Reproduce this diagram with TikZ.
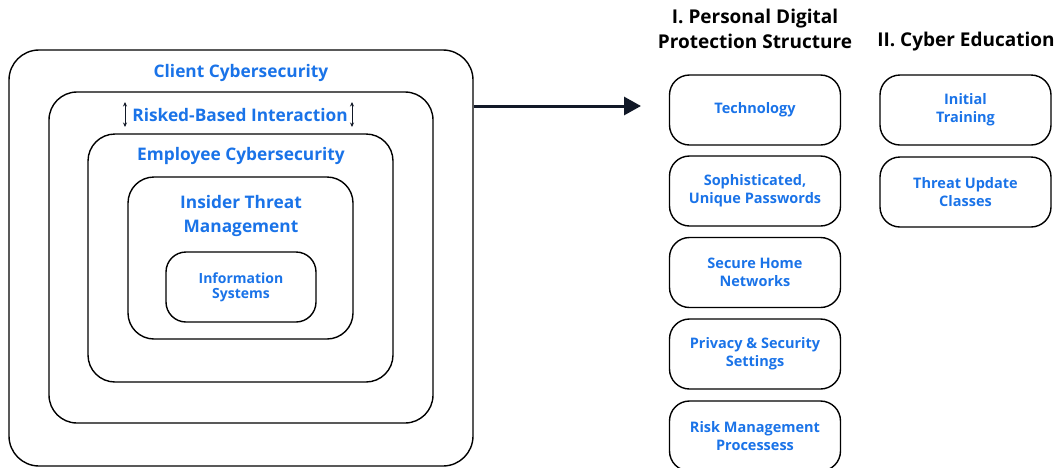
\documentclass[tikz,border=0pt]{standalone}
\usepackage{fontspec}
\setmainfont{Open Sans}
\usetikzlibrary{arrows.meta}
\definecolor{labelblue}{RGB}{26,115,232}
\definecolor{arrowdark}{RGB}{17,24,39}

\begin{document}
\begin{tikzpicture}[x=1pt, y=-1pt,
  layer/.style={draw, line width=1.4pt, inner sep=0pt},
  tag/.style={text=labelblue, align=center, font=\bfseries\fontsize{17.3}{24}\selectfont},
  item/.style={draw, line width=1.4pt, rounded corners=20pt, minimum width=171pt, minimum height=70pt, align=center, text=labelblue, font=\bfseries\fontsize{14.5}{18}\selectfont},
  head/.style={align=center, font=\bfseries\fontsize{19}{25}\selectfont}]
  \useasboundingbox (0,0) rectangle (1057,467);
  \node[layer, rounded corners=30pt, minimum width=464pt, minimum height=416pt] (client) at (241,258) {};
  \node[layer, rounded corners=28pt, minimum width=384pt, minimum height=331pt] (rbi) at (241,257.5) {};
  \node[layer, rounded corners=27pt, minimum width=305pt, minimum height=248pt] (emp) at (240.5,258) {};
  \node[layer, rounded corners=26pt, minimum width=225pt, minimum height=162pt] (itm) at (240.5,258) {};
  \node[layer, rounded corners=20pt, minimum width=150pt, minimum height=70pt, text=labelblue, align=center, font=\bfseries\fontsize{14}{15}\selectfont] (is) at (241,287) {Information\\Systems};
  \node[tag] (t1) at (241,73) {Client Cybersecurity};
  \node[tag] (t2) at (240,115) {Risked-Based Interaction};
  \node[tag] (t3) at (241,156) {Employee Cybersecurity};
  \node[tag] (t4) at (241,216) {Insider Threat\\Management};
  \coordinate (l1) at (125,102);
  \coordinate (l2) at (125,127);
  \coordinate (r1) at (352,102);
  \coordinate (r2) at (352,127);
  \draw[arrowdark, line width=0.9pt, {Stealth[length=4.5pt,width=4pt]}-{Stealth[length=4.5pt,width=4pt]}] (l1) -- (l2);
  \draw[arrowdark, line width=0.9pt, {Stealth[length=4.5pt,width=4pt]}-{Stealth[length=4.5pt,width=4pt]}] (r1) -- (r2);
  \coordinate (tip) at (641,106);
  \draw[arrowdark, line width=3pt, -{Triangle[length=17pt,width=18pt]}] (client.east |- tip) -- (tip);
  \node[head] (h1) at (755,29) {I. Personal Digital\\Protection Structure};
  \node[head] (h2) at (966,42) {II. Cyber Education};
  \node[item] (p1) at (755,110) {Technology};
  \node[item] (p2) at (755,191) {Sophisticated,\\Unique Passwords};
  \node[item] (p3) at (755,272.5) {Secure Home\\Networks};
  \node[item] (p4) at (755,354) {Privacy \& Security\\Settings};
  \node[item] (p5) at (755,436) {Risk Management\\Processess};
  \node[item] (e1) at (965.5,110) {Initial\\Training};
  \node[item] (e2) at (965.5,192) {Threat Update\\Classes};
\end{tikzpicture}
\end{document}
